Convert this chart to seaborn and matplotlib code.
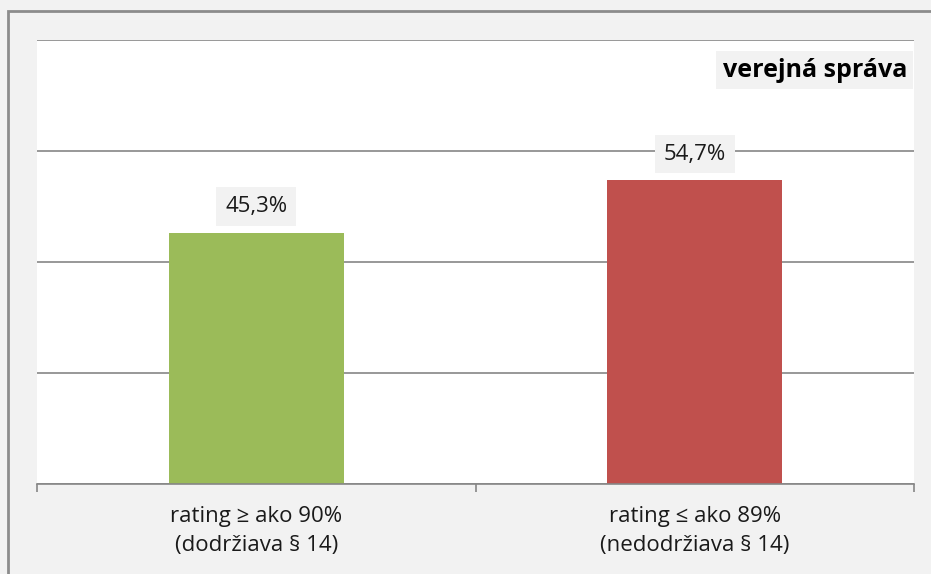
import matplotlib
matplotlib.use("Agg")
import matplotlib.pyplot as plt
import seaborn as sns
import pandas as pd
from matplotlib.patches import Rectangle

# Dáta
kategorie = ["rating ≥ ako 90%\n(dodržiava § 14)", "rating ≤ ako 89%\n(nedodržiava § 14)"]
hodnoty = [45.3, 54.7]
popisky = ["45,3%", "54,7%"]
farby = ["#9bbb59", "#c0504d"]
nadpis = "verejná správa"

sns.set_style("white")
plt.rcParams["font.family"] = ["Open Sans", "DejaVu Sans"]

df = pd.DataFrame({"kategoria": kategorie, "hodnota": hodnoty})

fig = plt.figure(figsize=(9.31, 5.74), dpi=100, facecolor="#f2f2f2")
ax = fig.add_axes([37 / 931, 1 - 484 / 574, (914 - 37) / 931, (484 - 40) / 574])
ax.set_facecolor("white")

sns.barplot(data=df, x="kategoria", y="hodnota", hue="kategoria",
            palette=farby, width=0.4, legend=False, ax=ax, saturation=1,
            linewidth=0)

ax.set_ylim(0, 80)
ax.set_yticks([0, 20, 40, 60, 80])
ax.set_yticklabels([])
ax.yaxis.grid(True, color="#868686", linewidth=1.2)
ax.set_axisbelow(True)
ax.tick_params(axis="y", length=0)
for s in ["left", "right", "top"]:
    ax.spines[s].set_visible(False)
ax.spines["bottom"].set_color("#868686")
ax.spines["bottom"].set_linewidth(1.2)

ax.set_xlim(-0.5, 1.5)
ax.set_xticks([-0.5, 0.5, 1.5], minor=True)
ax.tick_params(axis="x", which="minor", bottom=True, length=6, color="#868686", width=1.2)
ax.tick_params(axis="x", which="major", length=0, pad=16, labelsize=16, colors="#1a1a1a")
for lbl in ax.get_xticklabels():
    lbl.set_linespacing(1.5)
ax.set_xlabel("")
ax.set_ylabel("")

for i, (v, t) in enumerate(zip(hodnoty, popisky)):
    ax.annotate(t, (i, v), xytext=(0, 19), textcoords="offset points", ha="center",
                va="center", fontsize=16, color="#1a1a1a",
                bbox=dict(boxstyle="square,pad=0.4", fc="#f2f2f2", ec="none"))

ax.text(0.992, 0.932, nadpis, transform=ax.transAxes, ha="right", va="center",
        fontsize=18, fontweight="bold", color="black",
        bbox=dict(boxstyle="square,pad=0.25", fc="#f2f2f2", ec="none"))

# rámik grafu
fig.patches.append(Rectangle((8 / 931, -0.1), 1.1, 1 - 11 / 574 + 0.1,
                             transform=fig.transFigure, fill=False,
                             ec="#8c8c8c", lw=2, clip_on=False))

fig.savefig("out.png", dpi=100, facecolor=fig.get_facecolor())
